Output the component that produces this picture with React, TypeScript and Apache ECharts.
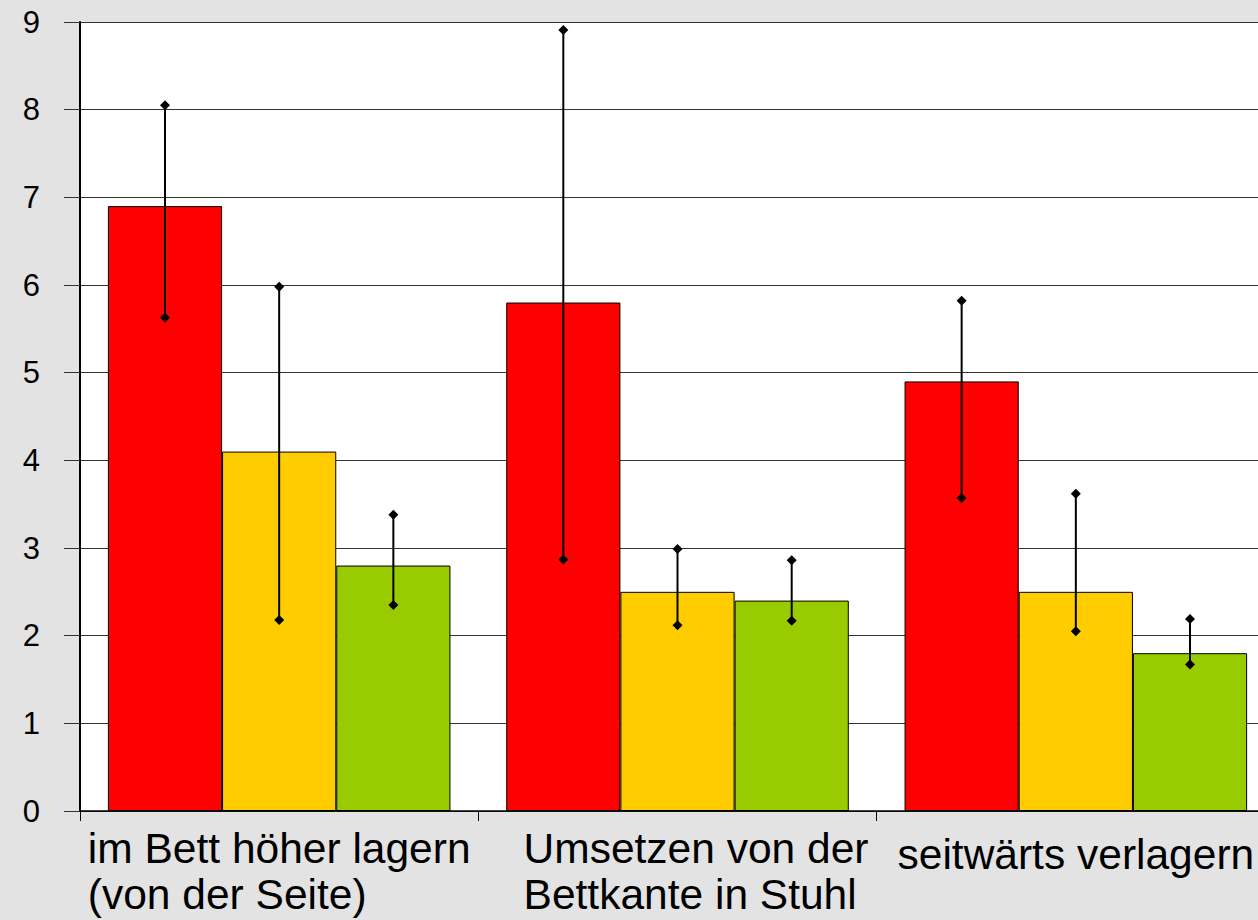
import React, { useEffect, useRef } from "react";
import * as echarts from "echarts";

const categories = [
  "im Bett höher lagern\n(von der Seite)",
  "Umsetzen von der\nBettkante in Stuhl",
  "seitwärts verlagern",
];
const seriesNames = ["rot", "gelb", "grün"];
const seriesColors = ["#ff0000", "#ffcc00", "#99cc00"];
const redValues = [6.9, 5.8, 4.9];
const yellowValues = [4.1, 2.5, 2.5];
const greenValues = [2.8, 2.4, 1.8];
const redLow = [5.63, 2.87, 3.57];
const redHigh = [8.05, 8.91, 5.82];
const yellowLow = [2.18, 2.12, 2.05];
const yellowHigh = [5.98, 2.99, 3.62];
const greenLow = [2.35, 2.17, 1.67];
const greenHigh = [3.38, 2.86, 2.19];
const yTicks = [0, 1, 2, 3, 4, 5, 6, 7, 8, 9];

const FONT = '"Liberation Sans", Arial, sans-serif';
const GAP = 0.14;

export default function App() {
  const ref = useRef<HTMLDivElement>(null);
  useEffect(() => {
    if (!ref.current) return;
    document.body.style.overflow = "hidden";
    document.body.style.background = "#e3e3e3";
    const chart = echarts.init(ref.current, null, { renderer: "svg" });
    const values = [redValues, yellowValues, greenValues];
    const lows = [redLow, yellowLow, greenLow];
    const highs = [redHigh, yellowHigh, greenHigh];
    const labelStyleByIndex = ["a", "b", "c"];

    const barSeries = values.map((vals, k) => ({
      name: seriesNames[k],
      type: "bar",
      data: vals,
      barGap: "0%",
      barCategoryGap: GAP * 100 + "%",
      itemStyle: { color: seriesColors[k], borderColor: "#000", borderWidth: 1 },
      z: 2,
    }));

    const errSeries = values.map((_, k) => ({
      name: seriesNames[k] + "-err",
      type: "custom",
      z: 5,
      clip: false,
      data: categories.map((_, i) => [i, lows[k][i], highs[k][i]]),
      renderItem: (params: any, api: any) => {
        const lo = api.coord([api.value(0), api.value(1)]);
        const hi = api.coord([api.value(0), api.value(2)]);
        const band = api.size([1, 0])[0];
        const barW = (band * (1 - GAP)) / 3;
        const x = lo[0] + (k - 1) * barW;
        const d = 5;
        const diamond = (y: number) => ({
          type: "polygon",
          shape: { points: [[x, y - d], [x + d, y], [x, y + d], [x - d, y]] },
          style: { fill: "#000" },
        });
        return {
          type: "group",
          children: [
            {
              type: "line",
              shape: { x1: x, y1: lo[1], x2: x, y2: hi[1] },
              style: { stroke: "#000", lineWidth: 2 },
            },
            diamond(hi[1]),
            diamond(lo[1]),
          ],
        };
      },
    }));

    const labelBase = { fontSize: 42.5, lineHeight: 46, color: "#000", fontFamily: FONT };

    chart.setOption({
      animation: false,
      backgroundColor: "#e3e3e3",
      grid: {
        left: 80,
        top: 22,
        right: 0,
        bottom: 109,
        show: true,
        backgroundColor: "#ffffff",
        borderWidth: 0,
      },
      xAxis: {
        type: "category",
        data: categories,
        axisLine: { show: true, lineStyle: { color: "#000", width: 1.5 } },
        axisTick: { show: true, length: 10, alignWithLabel: false, lineStyle: { color: "#000", width: 1 } },
        axisLabel: {
          interval: 0,
          margin: 14,
          color: "#000",
          fontFamily: FONT,
          fontSize: 42.5,
          lineHeight: 46,
          formatter: (value: string, index: number) => {
            const s = labelStyleByIndex[index];
            return value
              .split("\n")
              .map((line) => "{" + s + "|" + line + "}")
              .join("\n");
          },
          rich: {
            a: { ...labelBase, align: "left" },
            b: { ...labelBase, align: "left", padding: [0, 0, 0, 37] },
            c: { ...labelBase, lineHeight: 58 },
          },
        },
        splitLine: { show: false },
      },
      yAxis: {
        type: "value",
        min: yTicks[0],
        max: yTicks[yTicks.length - 1],
        interval: 1,
        axisLine: { show: true, lineStyle: { color: "#000", width: 2 } },
        axisTick: { show: true, length: 16, lineStyle: { color: "#333", width: 1 } },
        axisLabel: { margin: 40, color: "#000", fontFamily: FONT, fontSize: 31 },
        splitLine: { show: true, lineStyle: { color: "#333", width: 1 } },
      },
      series: [...barSeries, ...errSeries],
    });
    return () => chart.dispose();
  }, []);
  return (
    <div
      ref={ref}
      style={{ position: "fixed", left: 0, top: 0, width: 1275, height: 920 }}
    />
  );
}
